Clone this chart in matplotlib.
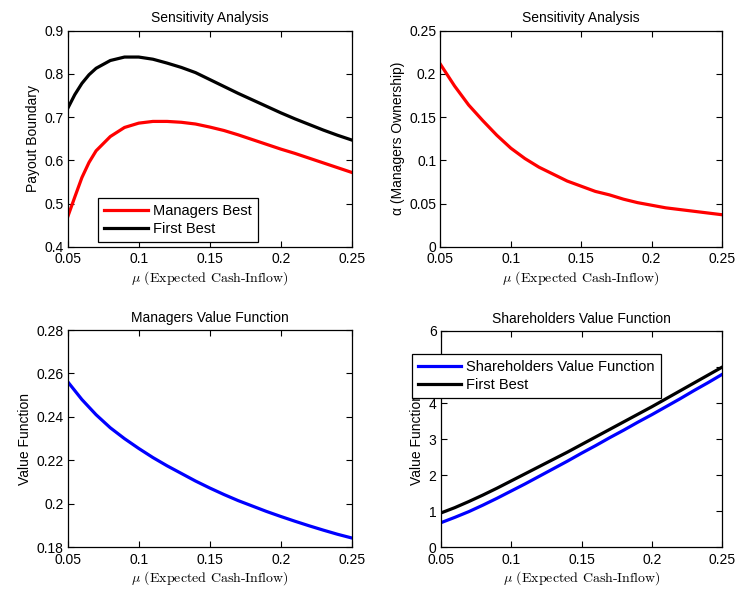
import matplotlib
matplotlib.use("Agg")
import matplotlib.pyplot as plt

plt.rcParams['font.family'] = ['Liberation Sans', 'DejaVu Sans']
plt.rcParams['mathtext.fontset'] = 'cm'

# ---- data ----
mu_tl = [0.05, 0.055, 0.06, 0.065, 0.07, 0.08, 0.09, 0.10, 0.11, 0.12, 0.13, 0.14,
         0.15, 0.16, 0.17, 0.18, 0.19, 0.20, 0.21, 0.22, 0.23, 0.24, 0.25]
managers_best = [0.469, 0.515, 0.560, 0.595, 0.622, 0.655, 0.676, 0.686, 0.690, 0.690,
                 0.688, 0.684, 0.677, 0.669, 0.659, 0.648, 0.637, 0.626, 0.616, 0.605,
                 0.594, 0.583, 0.572]
first_best_payout = [0.720, 0.752, 0.778, 0.798, 0.813, 0.831, 0.839, 0.839, 0.834, 0.825,
                     0.815, 0.803, 0.787, 0.771, 0.755, 0.740, 0.725, 0.710, 0.696, 0.683,
                     0.670, 0.658, 0.647]

mu = [0.05, 0.06, 0.07, 0.08, 0.09, 0.10, 0.11, 0.12, 0.13, 0.14, 0.15,
      0.16, 0.17, 0.18, 0.19, 0.20, 0.21, 0.22, 0.23, 0.24, 0.25]
alpha_own = [0.211, 0.186, 0.164, 0.146, 0.129, 0.114, 0.102, 0.092, 0.084, 0.076, 0.070,
             0.064, 0.060, 0.055, 0.051, 0.048, 0.045, 0.043, 0.041, 0.039, 0.037]
managers_value = [0.2562, 0.2480, 0.2410, 0.2350, 0.2300, 0.2255, 0.2213, 0.2175, 0.2140,
                  0.2105, 0.2073, 0.2043, 0.2015, 0.1990, 0.1965, 0.1942, 0.1920, 0.1899,
                  0.1879, 0.1860, 0.1843]
shareholders_value = [0.68, 0.83, 0.99, 1.17, 1.36, 1.56, 1.76, 1.97, 2.18, 2.39, 2.61,
                      2.82, 3.04, 3.25, 3.47, 3.68, 3.90, 4.12, 4.35, 4.57, 4.80]
first_best_value = [0.95, 1.10, 1.27, 1.45, 1.64, 1.84, 2.04, 2.24, 2.44, 2.64, 2.85,
                    3.06, 3.27, 3.48, 3.69, 3.90, 4.12, 4.34, 4.56, 4.78, 5.00]

xticks = [0.05, 0.1, 0.15, 0.2, 0.25]
xticklabels = ['0.05', '0.1', '0.15', '0.2', '0.25']
yticks_tl = [0.4, 0.5, 0.6, 0.7, 0.8, 0.9]
yticklabels_tl = ['0.4', '0.5', '0.6', '0.7', '0.8', '0.9']
yticks_tr = [0, 0.05, 0.1, 0.15, 0.2, 0.25]
yticklabels_tr = ['0', '0.05', '0.1', '0.15', '0.2', '0.25']
yticks_bl = [0.18, 0.2, 0.22, 0.24, 0.26, 0.28]
yticklabels_bl = ['0.18', '0.2', '0.22', '0.24', '0.26', '0.28']
yticks_br = [0, 1, 2, 3, 4, 5, 6]
yticklabels_br = ['0', '1', '2', '3', '4', '5', '6']

xlabel_text = r'$\mu$ (Expected Cash-Inflow)'

W, H = 736, 590
fig = plt.figure(figsize=(W / 100, H / 100), dpi=100)


def make_ax(x0, y0, x1, y1):
    return fig.add_axes([x0 / W, 1 - y1 / H, (x1 - x0) / W, (y1 - y0) / H])


def style(ax, yt, ytl, ylim, title, ylabel):
    ax.set_xlim(0.05, 0.25)
    ax.set_ylim(*ylim)
    ax.set_xticks(xticks)
    ax.set_xticklabels(xticklabels)
    ax.set_yticks(yt)
    ax.set_yticklabels(ytl)
    ax.tick_params(direction='in', top=True, right=True, length=4, width=0.8,
                   labelsize=10, pad=3)
    ax.tick_params(axis='x', pad=4)
    for s in ax.spines.values():
        s.set_linewidth(0.9)
    ax.set_title(title, fontsize=10, pad=6)
    ax.set_ylabel(ylabel, fontsize=10, labelpad=3)
    ax.set_xlabel(xlabel_text, fontsize=10, family='cmr10', labelpad=2)


lw = 2.3


def legend(ax, x0, y0):
    leg = ax.legend(loc='lower left', bbox_to_anchor=(x0 / W, 1 - y0 / H),
                    bbox_transform=fig.transFigure, borderaxespad=0, fontsize=10.5,
                    fancybox=False, framealpha=1, edgecolor='black', handlelength=3.0,
                    handletextpad=0.35, labelspacing=0.3, borderpad=0.4)
    leg.get_frame().set_linewidth(0.9)
    leg.set_zorder(10)
    return leg


ax1 = make_ax(67.7, 30.7, 351.7, 246.7)
ax1.plot(mu_tl, managers_best, color='#ff0000', lw=lw, label='Managers Best')
ax1.plot(mu_tl, first_best_payout, color='black', lw=lw, label='First Best')
style(ax1, yticks_tl, yticklabels_tl, (0.4, 0.9), 'Sensitivity Analysis', 'Payout Boundary')
legend(ax1, 98.3, 242.3)

ax2 = make_ax(440.5, 30.7, 722, 246.7)
ax2.plot(mu, alpha_own, color='#ff0000', lw=lw)
style(ax2, yticks_tr, yticklabels_tr, (0, 0.25), 'Sensitivity Analysis',
      '\u03b1 (Managers Ownership)')

ax3 = make_ax(67.7, 330, 351.7, 547.3)
ax3.plot(mu, managers_value, color='#0000ff', lw=lw)
style(ax3, yticks_bl, yticklabels_bl, (0.18, 0.28), 'Managers Value Function', 'Value Function')

ax4 = make_ax(440.7, 331, 722.3, 547.3)
ax4.plot(mu, shareholders_value, color='#0000ff', lw=lw, label='Shareholders Value Function')
ax4.plot(mu, first_best_value, color='black', lw=lw, label='First Best')
style(ax4, yticks_br, yticklabels_br, (0, 6), 'Shareholders Value Function', 'Value Function')
legend(ax4, 411.7, 398.3)

fig.savefig('out.png', dpi=100)
